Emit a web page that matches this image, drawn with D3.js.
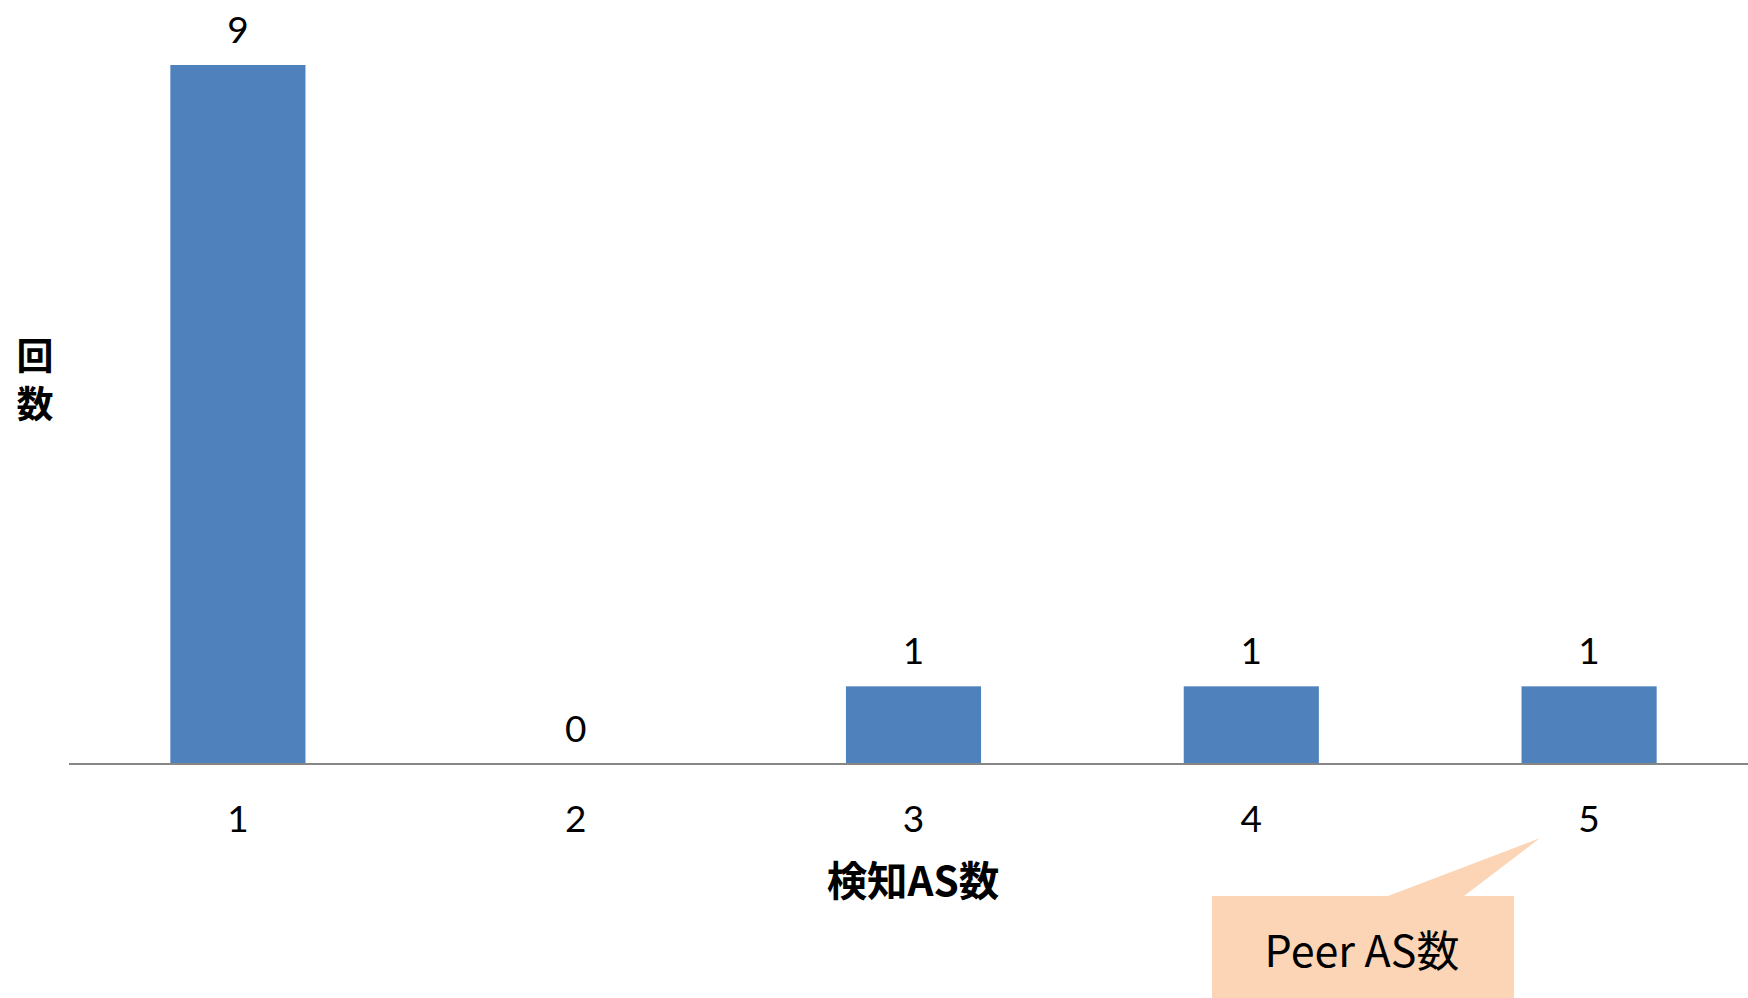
<!DOCTYPE html>
<html>
<head>
<meta charset="utf-8">
<script src="https://cdn.jsdelivr.net/npm/d3@7"></script>
<style>
  html, body { margin: 0; padding: 0; background: #fff; }
  svg { display: block; }
</style>
</head>
<body>
<svg id="chart"></svg>
<script>
// data
const categories = ["1", "2", "3", "4", "5"];
const counts = [9, 0, 1, 1, 1];
const xTitle = "検知AS数";
const yTitle = "回数";
const calloutText = "Peer AS数";

const W = 1748, H = 998;
const numFont = "Lato, 'Open Sans', sans-serif";
const jpFont = "'Noto Sans CJK JP', sans-serif";

const svg = d3.select("#chart").attr("width", W).attr("height", H);

const x = d3.scaleBand()
  .domain(categories)
  .range([69, 1758])
  .paddingInner(0.6)
  .paddingOuter(0.3);

const y = d3.scaleLinear()
  .domain([0, 9])
  .range([764, 65]);

// bars
svg.append("g").selectAll("rect")
  .data(counts)
  .join("rect")
  .attr("x", (d, i) => x(categories[i]))
  .attr("y", d => y(d))
  .attr("width", x.bandwidth())
  .attr("height", d => y(0) - y(d))
  .attr("fill", "#4f81bd");

// baseline axis
const xAxis = d3.axisBottom(x).tickSize(0).tickPadding(42);
const gx = svg.append("g")
  .attr("transform", `translate(0,${y(0)})`)
  .call(xAxis);
gx.select(".domain").attr("stroke", "#868686").attr("stroke-width", 2)
  .attr("d", `M69,0H${W}`);
gx.selectAll("text")
  .attr("font-family", numFont)
  .attr("font-size", 37)
  .attr("fill", "#000");

// value labels
svg.append("g").selectAll("text")
  .data(counts)
  .join("text")
  .attr("x", (d, i) => x(categories[i]) + x.bandwidth() / 2)
  .attr("y", d => y(d) - 22)
  .attr("text-anchor", "middle")
  .attr("font-family", numFont)
  .attr("font-size", 37)
  .attr("fill", "#000")
  .text(d => d);

// axis titles
svg.append("text")
  .attr("x", 913)
  .attr("y", 896)
  .attr("text-anchor", "middle")
  .attr("font-family", jpFont)
  .attr("font-weight", "bold")
  .attr("font-size", 40.5)
  .text(xTitle);

// vertical y title
svg.append("text")
  .attr("x", 35)
  .attr("y", 337)
  .attr("writing-mode", "vertical-rl")
  .style("letter-spacing", "11px")
  .attr("font-family", jpFont)
  .attr("font-weight", "bold")
  .attr("font-size", 37)
  .text(yTitle);

// callout pointing at category 5
const cx5 = x("5") + x.bandwidth() / 2;
const tip = [cx5 - 49, 838];
const box = { x0: 1212, x1: 1514, y0: 896, y1: H + 10 };
const callout = svg.append("g");
callout.append("path")
  .attr("d", `M${box.x0},${box.y0}H1388L${tip[0]},${tip[1]}L1464,${box.y0}H${box.x1}V${box.y1}H${box.x0}Z`)
  .attr("fill", "#fbd5b5");
callout.append("text")
  .attr("x", 1362)
  .attr("y", 967)
  .attr("text-anchor", "middle")
  .attr("font-family", jpFont)
  .attr("font-size", 43)
  .attr("fill", "#000")
  .text(calloutText);
</script>
</body>
</html>
